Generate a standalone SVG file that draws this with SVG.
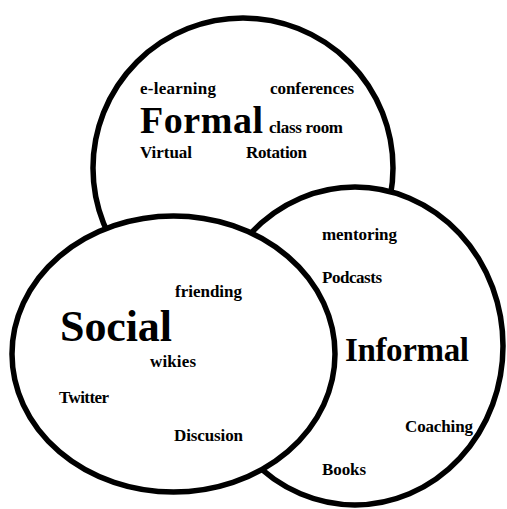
<svg xmlns="http://www.w3.org/2000/svg" width="507" height="509" viewBox="0 0 507 509">
<style>
.c{fill:#fff;stroke:#000;stroke-width:5.5}
text{font-family:"Liberation Serif","Times New Roman",serif;font-weight:bold;fill:#000}
.s{font-size:17px}
</style>
<rect width="507" height="509" fill="#fff"/>
<g id="formal">
<circle class="c" cx="243" cy="168" r="150"/>
<text x="140" y="94" class="s" textLength="76">e-learning</text>
<text x="270" y="94" class="s" textLength="84">conferences</text>
<text x="140" y="133" style="font-size:38px" textLength="123">Formal</text>
<text x="269" y="133" class="s" textLength="74">class room</text>
<text x="140" y="158" class="s" textLength="52">Virtual</text>
<text x="246" y="158" class="s" textLength="61">Rotation</text>
</g>
<g id="informal">
<ellipse class="c" cx="355" cy="346" rx="148" ry="159"/>
<text x="322" y="240" class="s" textLength="75">mentoring</text>
<text x="322" y="283" class="s" textLength="60">Podcasts</text>
<text x="345" y="361" style="font-size:33px" textLength="124">Informal</text>
<text x="405" y="432" class="s" textLength="68">Coaching</text>
<text x="322" y="475" class="s" textLength="44">Books</text>
</g>
<g id="social">
<ellipse class="c" cx="173.5" cy="354" rx="161.5" ry="138"/>
<text x="175" y="297" class="s" textLength="67">friending</text>
<text x="60" y="341" style="font-size:44px" textLength="112">Social</text>
<text x="150" y="367" class="s" textLength="46">wikies</text>
<text x="59" y="403" class="s" textLength="50">Twitter</text>
<text x="174" y="441" class="s" textLength="69">Discusion</text>
</g>
<g id="connectors"></g>
</svg>
